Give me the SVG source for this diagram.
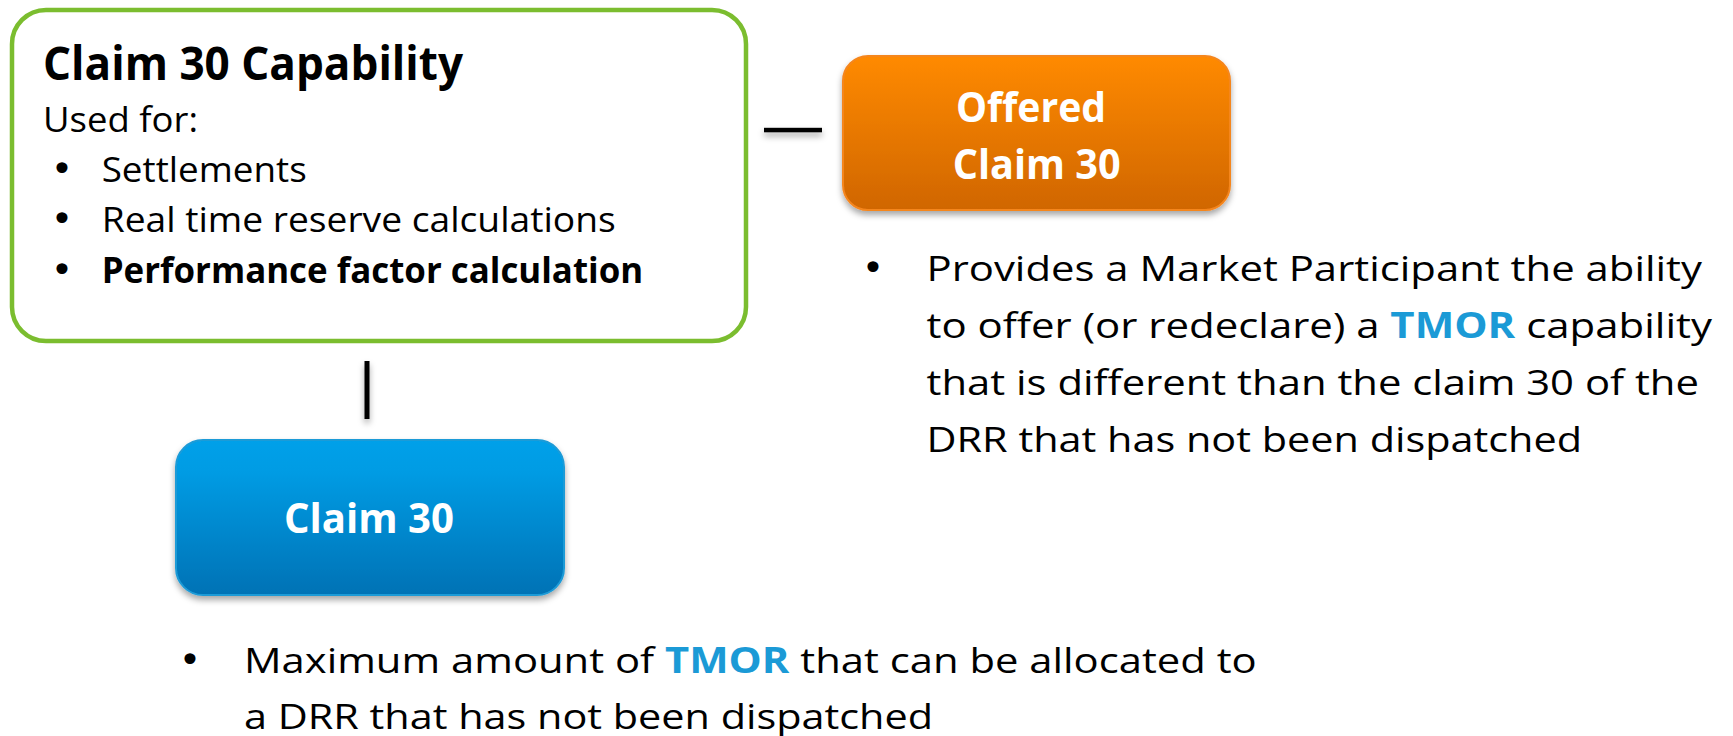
<svg xmlns="http://www.w3.org/2000/svg" width="1733" height="736" viewBox="0 0 1733 736">
<style>
  .t { font-family: "Open Sans", "Liberation Sans", sans-serif; fill: #000; }
  .body { font-size: 35px; }
  .bold { font-weight: 700; }
  .lbl { font-family: "Open Sans", "Liberation Sans", sans-serif; font-weight: 700; font-size: 42px; fill: #fff; text-anchor: middle; }
  .bul { font-family: "DejaVu Sans", sans-serif; font-size: 38px; text-anchor: middle; }
  .tmor { fill: #1B9AD6; font-weight: 700; }
  .conn { fill: #000; filter: url(#sh); }
</style>
<defs>
  <linearGradient id="gOr" x1="0" y1="0" x2="0" y2="1">
    <stop offset="0" stop-color="#FF8A00"/>
    <stop offset="1" stop-color="#D06600"/>
  </linearGradient>
  <linearGradient id="gBl" x1="0" y1="0" x2="0" y2="1">
    <stop offset="0" stop-color="#00A0E9"/>
    <stop offset="0.2" stop-color="#009CE4"/>
    <stop offset="1" stop-color="#0072B5"/>
  </linearGradient>
  <filter id="sh" filterUnits="userSpaceOnUse" x="0" y="0" width="1733" height="736">
    <feDropShadow dx="0" dy="4" stdDeviation="3" flood-color="#000" flood-opacity="0.35"/>
  </filter>
</defs>
<rect width="1733" height="736" fill="#fff"/>

<g id="connectors">
  <rect class="conn" x="764" y="127.8" width="58" height="4.5"/>
  <rect class="conn" x="364.5" y="361" width="5" height="58"/>
</g>

<g id="capability">
  <rect x="12" y="10" width="734" height="331" rx="34" fill="#fff" stroke="#7BBD2F" stroke-width="4.5"/>
  <text class="t bold" x="43" y="79.5" font-size="46" textLength="420" lengthAdjust="spacingAndGlyphs">Claim 30 Capability</text>
  <text class="t body" x="43" y="131.5" textLength="155" lengthAdjust="spacingAndGlyphs">Used for:</text>
  <text class="bul" x="62" y="182">•</text>
  <text class="t body" x="101.7" y="182" textLength="205" lengthAdjust="spacingAndGlyphs">Settlements</text>
  <text class="bul" x="62" y="232">•</text>
  <text class="t body" x="101.7" y="232" textLength="514" lengthAdjust="spacingAndGlyphs">Real time reserve calculations</text>
  <text class="bul" x="62" y="283">•</text>
  <text class="t body bold" x="101.7" y="283" textLength="541.5" lengthAdjust="spacingAndGlyphs">Performance factor calculation</text>
</g>

<g id="offered">
  <rect x="843" y="56" width="387" height="154" rx="25" fill="url(#gOr)" stroke="#F5861F" stroke-width="2" filter="url(#sh)"/>
  <text class="lbl" x="1031" y="121.7" textLength="150" lengthAdjust="spacingAndGlyphs">Offered</text>
  <text class="lbl" x="1036.7" y="179.3" textLength="168" lengthAdjust="spacingAndGlyphs">Claim 30</text>
</g>

<g id="offered-note">
  <text class="bul" x="873" y="281">•</text>
  <text class="t body" x="926.5" y="281" textLength="775.5" lengthAdjust="spacingAndGlyphs">Provides a Market Participant the ability</text>
  <text class="t body" x="926.5" y="338" textLength="785.5" lengthAdjust="spacingAndGlyphs">to offer (or redeclare) a <tspan class="tmor">TMOR</tspan> capability</text>
  <text class="t body" x="926.5" y="395" textLength="772.5" lengthAdjust="spacingAndGlyphs">that is different than the claim 30 of the</text>
  <text class="t body" x="926.5" y="452" textLength="655.5" lengthAdjust="spacingAndGlyphs">DRR that has not been dispatched</text>
</g>

<g id="claim30">
  <rect x="176" y="440" width="388" height="155" rx="27" fill="url(#gBl)" stroke="#1E9BD7" stroke-width="2" filter="url(#sh)"/>
  <text class="lbl" x="369" y="533.3" textLength="170" lengthAdjust="spacingAndGlyphs">Claim 30</text>
</g>

<g id="claim30-note">
  <text class="bul" x="190" y="673">•</text>
  <text class="t body" x="244" y="673" textLength="1012.7" lengthAdjust="spacingAndGlyphs">Maximum amount of <tspan class="tmor">TMOR</tspan> that can be allocated to</text>
  <text class="t body" x="244" y="729" textLength="689" lengthAdjust="spacingAndGlyphs">a DRR that has not been dispatched</text>
</g>
</svg>
